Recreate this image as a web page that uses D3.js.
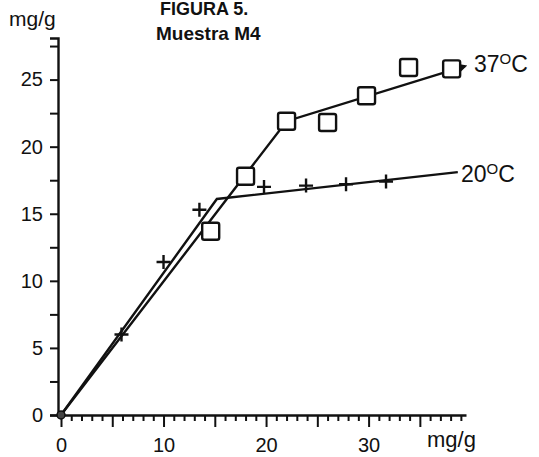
<!DOCTYPE html>
<html>
<head>
<meta charset="utf-8">
<script src="https://cdn.jsdelivr.net/npm/d3@7"></script>
<style>
  body { margin: 0; background: #fff; }
  text { font-family: "Liberation Sans", Arial, sans-serif; fill: #111; }
</style>
</head>
<body>
<div id="chart"></div>
<script>
// datos (mg/g)
const x37 = [14.6, 18, 22, 26, 29.8, 33.9, 38.1];
const y37 = [13.7, 17.8, 21.9, 21.8, 23.8, 25.9, 25.8];
const x20 = [5.9, 10, 13.5, 19.8, 23.9, 27.8, 31.7];
const y20 = [6, 11.4, 15.3, 17, 17.1, 17.2, 17.4];
// rectas ajustadas
const fit37X = [0, 22, 39.4];
const fit37Y = [0, 21.9, 26.0];
const fit20X = [0, 15.2, 38.7];
const fit20Y = [0, 16.1, 18.1];
const xTickLabels = [0, 10, 20, 30];
const yTickLabels = [0, 5, 10, 15, 20, 25];

const svg = d3.select('#chart').append('svg')
  .attr('width', 539)
  .attr('height', 457);

const x = d3.scaleLinear().domain([0, 39.5]).range([61, 466]);
const y = d3.scaleLinear().domain([0, 28.1]).range([415, 38]);

// eje x
const gx = svg.append('g')
  .attr('transform', `translate(0,${y(0)})`)
  .call(d3.axisBottom(x)
    .tickValues(d3.range(0, 40, 1))
    .tickSizeOuter(0)
    .tickFormat(d => (xTickLabels.includes(d) ? d : '')));
gx.select('.domain').attr('stroke', '#111').attr('stroke-width', 2.4);
gx.selectAll('.tick line')
  .attr('stroke', '#111')
  .attr('stroke-width', 2)
  .attr('y2', d => (d % 5 === 0 ? 12 : 6));
gx.selectAll('.tick text')
  .attr('y', 23)
  .style('font-size', '20px');

// eje y
const gy = svg.append('g')
  .attr('transform', `translate(${x(0) - 3},0)`)
  .call(d3.axisLeft(y)
    .tickValues(d3.range(0, 28, 2.5))
    .tickSizeOuter(0)
    .tickSize(8)
    .tickFormat(d => (yTickLabels.includes(d) ? d : '')));
gy.select('.domain').attr('stroke', '#111').attr('stroke-width', 2.4);
gy.selectAll('.tick line').attr('stroke', '#111').attr('stroke-width', 2);
gy.selectAll('.tick text')
  .attr('x', -15)
  .style('font-size', '20px');

// rotulos
svg.append('text').attr('x', 9).attr('y', 26)
  .style('font-size', '21px').text('mg/g');
svg.append('text').attr('x', 427).attr('y', 447)
  .style('font-size', '22px').text('mg/g');
svg.append('text').attr('x', 160).attr('y', 15)
  .style('font-size', '18px').style('font-weight', 'bold').text('FIGURA 5.');
svg.append('text').attr('x', 156).attr('y', 40)
  .style('font-size', '19px').style('font-weight', 'bold').text('Muestra M4');

// flecha
svg.append('defs').append('marker')
  .attr('id', 'arrow')
  .attr('viewBox', '0 0 10 10')
  .attr('refX', 8).attr('refY', 5)
  .attr('markerWidth', 5).attr('markerHeight', 5)
  .attr('orient', 'auto')
  .append('path')
  .attr('d', 'M0,0 L10,5 L0,10 Z')
  .attr('fill', '#111');

const line = d3.line().x(d => x(d[0])).y(d => y(d[1]));

svg.append('path')
  .datum(d3.zip(fit20X, fit20Y))
  .attr('d', line)
  .attr('fill', 'none')
  .attr('stroke', '#111')
  .attr('stroke-width', 2.4);

svg.append('path')
  .datum(d3.zip(fit37X, fit37Y))
  .attr('d', line)
  .attr('fill', 'none')
  .attr('stroke', '#111')
  .attr('stroke-width', 2.4)
  .attr('marker-end', 'url(#arrow)');

// cuadrados 37 C
const sq = 17;
svg.selectAll('.sq37')
  .data(d3.zip(x37, y37))
  .enter()
  .append('rect')
  .attr('class', 'sq37')
  .attr('x', d => x(d[0]) - sq / 2)
  .attr('y', d => y(d[1]) - sq / 2)
  .attr('width', sq)
  .attr('height', sq)
  .attr('rx', 2)
  .attr('fill', '#fff')
  .attr('stroke', '#111')
  .attr('stroke-width', 2.4);

// cruces 20 C
const cr = 7;
svg.selectAll('.cr20')
  .data(d3.zip(x20, y20))
  .enter()
  .append('path')
  .attr('class', 'cr20')
  .attr('d', d => `M${x(d[0]) - cr},${y(d[1])}H${x(d[0]) + cr}M${x(d[0])},${y(d[1]) - cr}V${y(d[1]) + cr}`)
  .attr('stroke', '#111')
  .attr('stroke-width', 2.4);

// origen
svg.append('circle')
  .attr('cx', x(0)).attr('cy', y(0)).attr('r', 4)
  .attr('fill', '#444').attr('stroke', '#111').attr('stroke-width', 1.5);

// etiquetas de las curvas
function tempLabel(px, py, t) {
  const tx = svg.append('text').attr('x', px).attr('y', py).style('font-size', '23px');
  tx.append('tspan').text(t);
  tx.append('tspan').attr('dy', -8).style('font-size', '15px').text('O');
  tx.append('tspan').attr('dy', 8).text('C');
}
tempLabel(474, 72, '37');
tempLabel(461, 182, '20');
</script>
</body>
</html>
